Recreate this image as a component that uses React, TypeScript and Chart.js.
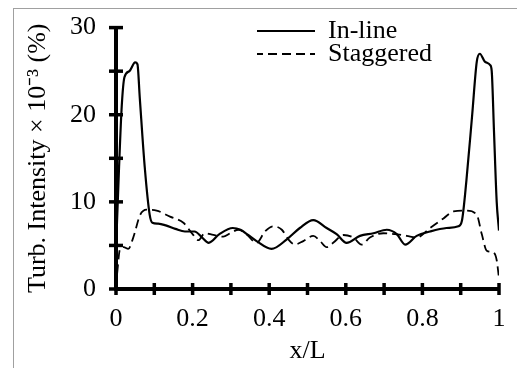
import React, { useEffect, useRef } from 'react';
import { Chart, registerables } from 'chart.js';

Chart.register(...registerables);

// ---- data ----
const seriesLabels = ['In-line', 'Staggered'];

const inlineX = [0.0, 0.008, 0.015, 0.022, 0.035, 0.05, 0.056, 0.062, 0.075, 0.088, 0.095, 0.11, 0.13, 0.155, 0.18, 0.205, 0.225, 0.242, 0.27, 0.305, 0.325, 0.345, 0.367, 0.406, 0.446, 0.48, 0.515, 0.55, 0.576, 0.602, 0.637, 0.672, 0.707, 0.733, 0.755, 0.785, 0.82, 0.863, 0.894, 0.903, 0.915, 0.93, 0.942, 0.95, 0.963, 0.977, 0.981, 0.987, 0.994, 1.0];
const inlineY = [4.5, 14, 21, 24.3, 25.0, 26.0, 25.8, 22, 14, 8.5, 7.6, 7.5, 7.3, 6.9, 6.6, 6.6, 5.9, 5.3, 6.3, 7.0, 6.8, 6.2, 5.5, 4.6, 5.7, 7.0, 7.9, 7.0, 6.3, 5.3, 6.1, 6.4, 6.8, 6.3, 5.1, 6.1, 6.6, 7.0, 7.2, 7.8, 12.5, 20, 26.1, 27.0, 26.1, 25.7, 25.0, 18, 10, 6.7];

const staggeredX = [0.003, 0.01, 0.02, 0.032, 0.045, 0.063, 0.08, 0.106, 0.141, 0.176, 0.2, 0.215, 0.232, 0.254, 0.28, 0.298, 0.32, 0.34, 0.367, 0.389, 0.41, 0.433, 0.45, 0.467, 0.489, 0.515, 0.533, 0.55, 0.567, 0.594, 0.62, 0.641, 0.663, 0.698, 0.728, 0.759, 0.785, 0.82, 0.855, 0.881, 0.916, 0.942, 0.955, 0.968, 0.985, 0.994, 1.0];
const staggeredY = [1.8, 4.5, 4.8, 4.6, 5.9, 8.5, 9.1, 9.0, 8.3, 7.6, 6.3, 5.6, 6.4, 6.2, 6.0, 6.4, 6.8, 6.3, 5.3, 6.6, 7.2, 6.8, 5.7, 5.1, 5.5, 6.1, 5.5, 4.8, 5.3, 6.2, 5.9, 5.1, 5.9, 6.4, 6.3, 6.1, 5.9, 7.0, 8.1, 8.9, 9.0, 8.5, 6.3, 4.4, 4.2, 3.3, 1.2];

const xTickLabels = ['0', '0.2', '0.4', '0.6', '0.8', '1'];
const yTickLabels = ['0', '10', '20', '30'];
const xTitle = 'x/L';
const yTitle = 'Turb. Intensity × 10⁻³ (%)';

const FONT = '"Liberation Serif", "Times New Roman", serif';
const FS = 26;

const framePlugin = {
  id: 'frame',
  beforeDraw(chart: any) {
    const ctx = chart.ctx;
    ctx.save();
    ctx.fillStyle = '#ffffff';
    ctx.fillRect(0, 0, chart.width, chart.height);
    ctx.strokeStyle = '#a0a0a0';
    ctx.lineWidth = 1;
    ctx.strokeRect(13.5, 8.5, chart.width + 20, chart.height + 20);
    ctx.restore();
  },
};

const crossTicksPlugin = {
  id: 'crossTicks',
  afterDraw(chart: any) {
    const ctx = chart.ctx;
    const { x, y } = chart.scales;
    const area = chart.chartArea;
    ctx.save();
    ctx.strokeStyle = '#000';
    ctx.lineCap = 'butt';
    ctx.lineWidth = 3.5;
    y.ticks.forEach((t: any) => {
      const py = y.getPixelForValue(t.value);
      ctx.beginPath();
      ctx.moveTo(area.left - 7, py);
      ctx.lineTo(area.left + 7, py);
      ctx.stroke();
    });
    x.ticks.forEach((t: any) => {
      const px = x.getPixelForValue(t.value);
      ctx.beginPath();
      ctx.moveTo(px, area.bottom - 6);
      ctx.lineTo(px, area.bottom + 6);
      ctx.stroke();
    });
    ctx.restore();
  },
};

const legendPlacePlugin = {
  id: 'legendPlace',
  afterLayout(chart: any) {
    const lg = chart.legend;
    if (!lg) return;
    const w = lg.width;
    lg.left = 257;
    lg.right = 257 + w;
    lg.top = 21;
    lg.bottom = 21 + 200;
    lg.height = 200;
  },
};

export default function App() {
  const ref = useRef<HTMLCanvasElement | null>(null);

  useEffect(() => {
    if (!ref.current) return;
    Chart.defaults.font.family = FONT;
    Chart.defaults.color = '#000';
    const chart = new Chart(ref.current, {
      type: 'line',
      data: {
        datasets: [
          {
            label: seriesLabels[0],
            data: inlineX.map((xv, i) => ({ x: xv, y: inlineY[i] })),
            borderColor: '#000',
            backgroundColor: '#000',
            borderWidth: 2.2,
            pointRadius: 0,
            cubicInterpolationMode: 'monotone',
            fill: false,
          },
          {
            label: seriesLabels[1],
            data: staggeredX.map((xv, i) => ({ x: xv, y: staggeredY[i] })),
            borderColor: '#000',
            backgroundColor: '#000',
            borderWidth: 1.8,
            borderDash: [9, 5],
            pointRadius: 0,
            cubicInterpolationMode: 'monotone',
            fill: false,
          },
        ],
      },
      options: {
        responsive: false,
        animation: false,
        devicePixelRatio: 1,
        layout: { padding: { left: 0, right: 18, top: 22, bottom: 0 } },
        plugins: {
          tooltip: { enabled: false },
          legend: {
            position: 'chartArea',
            align: 'start',
            labels: {
              usePointStyle: true,
              pointStyle: 'line',
              pointStyleWidth: 61,
              padding: -3,
              color: '#000',
              font: { family: FONT, size: FS },
              generateLabels: (c: any) => {
                const items = (Chart.defaults as any).plugins.legend.labels.generateLabels(c);
                items.forEach((it: any) => {
                  const ds: any = c.data.datasets[it.datasetIndex];
                  it.lineDash = ds.borderDash || [];
                  it.lineWidth = ds.borderWidth;
                  it.strokeStyle = '#000';
                  it.fillStyle = '#000';
                  it.pointStyle = 'line';
                });
                return items;
              },
            },
          },
        },
        scales: {
          x: {
            type: 'linear',
            min: 0,
            max: 1,
            afterFit: (s: any) => { s.height = 79; },
            grid: { display: false },
            border: { display: true, color: '#000', width: 4 },
            ticks: {
              stepSize: 0.1,
              autoSkip: false,
              maxRotation: 0,
              padding: 7,
              color: '#000',
              font: { family: FONT, size: FS },
              callback: (v: any) => {
                const s = String(Math.round(Number(v) * 10) / 10);
                return xTickLabels.includes(s) ? s : '';
              },
            },
            title: {
              display: true,
              text: xTitle,
              color: '#000',
              font: { family: FONT, size: FS },
              padding: { top: 0, bottom: 1.4 },
            },
          },
          y: {
            type: 'linear',
            min: 0,
            max: 30,
            afterFit: (s: any) => { s.width = 116; },
            grid: { display: false },
            border: { display: true, color: '#000', width: 4 },
            ticks: {
              stepSize: 5,
              autoSkip: false,
              padding: 12,
              color: '#000',
              font: { family: FONT, size: FS },
              callback: (v: any) => {
                const s = String(v);
                return yTickLabels.includes(s) ? s : '';
              },
            },
            title: {
              display: true,
              text: yTitle,
              color: '#000',
              font: { family: FONT, size: FS },
              padding: { top: 22.4, bottom: 0 },
            },
          },
        },
      },
      plugins: [framePlugin, crossTicksPlugin, legendPlacePlugin],
    } as any);
    return () => chart.destroy();
  }, []);

  return (
    <div style={{ position: 'absolute', left: 0, top: 0, width: 517, height: 368 }}>
      <canvas ref={ref} width={517} height={368} style={{ width: 517, height: 368, display: 'block' }} />
    </div>
  );
}
